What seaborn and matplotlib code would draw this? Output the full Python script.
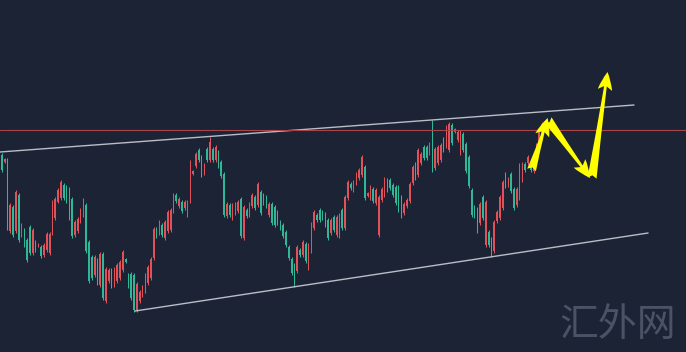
import numpy as np
import pandas as pd
import matplotlib.pyplot as plt
import seaborn as sns

# candle data (points) =========================================================
opens = [197, 190, 192, 121, 145, 121, 157, 117, 122, 112,
         125, 99, 110, 106, 105, 97, 102, 99, 119, 134,
         150, 154, 167, 165, 163, 153, 117, 121, 131, 137,
         147, 110, 95, 77, 92, 67, 98, 51, 71, 82,
         67, 71, 74, 82, 93, 77, 78, 77, 42, 51,
         57, 61, 69, 74, 94, 123, 119, 127, 114, 121,
         122, 141, 157, 146, 150, 144, 137, 151, 178, 186,
         202, 195, 179, 203, 192, 203, 192, 200, 190, 178,
         136, 147, 134, 139, 141, 153, 114, 142, 137, 146,
         155, 147, 160, 157, 155, 137, 148, 145, 140, 130,
         127, 120, 105, 93, 87, 81, 102, 97, 108, 84,
         101, 124, 137, 142, 140, 138, 132, 119, 135, 117,
         116, 142, 124, 154, 168, 162, 169, 174, 177, 185,
         156, 154, 163, 149, 117, 152, 157, 172, 172, 167,
         165, 165, 155, 139, 146, 151, 169, 188, 177, 189,
         205, 205, 199, 205, 184, 189, 192, 213, 206, 202,
         227, 220, 212, 199, 218, 208, 195, 162, 145, 143,
         129, 155, 107, 120, 113, 101, 131, 134, 144, 178,
         167, 178, 163, 147, 154, 172, 188, 189, 188, 181,
         196, 207, 214]

closes = [182, 193, 124, 147, 117, 160, 112, 127, 107, 92,
          99, 122, 102, 108, 96, 107, 118, 118, 150, 153,
          162, 170, 154, 151, 134, 116, 130, 133, 142, 152,
          101, 71, 74, 95, 69, 98, 54, 83, 82, 66,
          83, 87, 90, 100, 90, 66, 54, 42, 68, 60,
          65, 77, 85, 93, 123, 116, 130, 117, 130, 140,
          142, 157, 151, 153, 141, 150, 150, 190, 181, 198,
          192, 177, 187, 192, 210, 192, 205, 186, 176, 137,
          148, 137, 147, 148, 150, 116, 145, 136, 148, 157,
          144, 168, 139, 149, 146, 148, 129, 127, 129, 124,
          116, 107, 94, 79, 67, 105, 97, 110, 91, 107,
          128, 140, 132, 132, 134, 127, 114, 132, 122, 135,
          137, 124, 155, 170, 164, 170, 178, 182, 195, 154,
          159, 165, 151, 162, 155, 163, 173, 162, 164, 157,
          149, 142, 136, 148, 152, 168, 185, 174, 202, 198,
          194, 194, 208, 182, 203, 205, 207, 202, 225, 228,
          209, 223, 220, 220, 202, 181, 166, 137, 136, 121,
          148, 134, 150, 107, 97, 130, 140, 155, 170, 166,
          173, 161, 144, 163, 187, 188, 182, 195, 182, 193,
          207, 222, 228]

highs = [199, 194, 194, 149, 147, 162, 159, 129, 124, 114,
         127, 124, 112, 109, 107, 109, 120, 120, 152, 155,
         164, 172, 169, 167, 165, 155, 132, 135, 144, 154,
         149, 112, 97, 97, 94, 100, 100, 85, 84, 84,
         85, 89, 92, 102, 94, 79, 80, 79, 70, 62,
         67, 79, 87, 95, 125, 125, 132, 129, 132, 142,
         144, 159, 159, 155, 152, 152, 152, 192, 182, 200,
         204, 197, 189, 205, 215, 205, 207, 202, 192, 180,
         150, 149, 149, 150, 152, 155, 147, 144, 150, 159,
         157, 170, 162, 159, 157, 150, 150, 147, 142, 132,
         129, 122, 107, 95, 89, 107, 104, 112, 110, 109,
         130, 142, 139, 144, 142, 140, 134, 134, 137, 137,
         139, 144, 157, 172, 170, 172, 180, 184, 197, 187,
         160, 167, 165, 164, 157, 165, 175, 174, 174, 169,
         167, 167, 157, 150, 154, 170, 187, 190, 204, 200,
         207, 207, 210, 232, 205, 207, 209, 215, 227, 230,
         229, 224, 222, 222, 220, 210, 197, 164, 147, 145,
         150, 157, 152, 122, 115, 132, 142, 157, 172, 180,
         175, 180, 165, 165, 189, 190, 190, 197, 190, 195,
         209, 224, 230]

lows = [180, 189, 122, 119, 115, 119, 110, 115, 105, 90,
        97, 97, 100, 105, 94, 95, 100, 97, 117, 132,
        149, 152, 152, 149, 132, 114, 115, 119, 129, 135,
        99, 69, 72, 75, 67, 65, 52, 49, 69, 64,
        65, 69, 72, 80, 89, 64, 52, 40, 40, 49,
        55, 59, 67, 72, 92, 114, 117, 115, 112, 119,
        120, 139, 149, 144, 139, 142, 135, 149, 177, 184,
        190, 175, 177, 190, 190, 190, 190, 184, 174, 135,
        134, 135, 132, 137, 139, 114, 112, 134, 135, 144,
        142, 145, 137, 147, 144, 135, 127, 125, 127, 122,
        114, 105, 92, 77, 65, 79, 95, 95, 89, 82,
        99, 122, 130, 130, 132, 125, 112, 117, 120, 115,
        114, 122, 122, 152, 162, 160, 167, 172, 175, 152,
        155, 152, 149, 147, 115, 150, 155, 160, 162, 155,
        147, 140, 134, 137, 144, 149, 167, 172, 175, 187,
        192, 192, 197, 180, 182, 187, 190, 200, 204, 200,
        207, 219, 210, 197, 200, 179, 164, 135, 134, 119,
        127, 132, 105, 105, 95, 99, 129, 132, 142, 164,
        165, 159, 142, 145, 152, 170, 180, 187, 180, 179,
        194, 205, 212]

# channel lines (bar index, price)
upper_x = [-0.6, 224.7]
upper_y = [200, 247]
lower_x = [47.4, 229.7]
lower_y = [41, 119]
resistance = 222.5

# drawn arrows: (tail, head) in (bar index, price)
arrows = [((188.3, 182), (194.0, 234)),
          ((194.1, 232), (209.1, 174)),
          ((209.8, 174), (215.3, 280))]

bg = '#1c2335'
up_col = '#e0525a'
dn_col = '#2fb898'

df = pd.DataFrame({'o': opens, 'h': highs, 'l': lows, 'c': closes})
df['i'] = np.arange(len(df))
df['up'] = df['c'] >= df['o']
df['col'] = np.where(df['up'], up_col, dn_col)

sns.set_theme(style='dark', rc={'axes.facecolor': bg, 'figure.facecolor': bg,
                                'savefig.facecolor': bg})

fig = plt.figure(figsize=(6.86, 3.52), dpi=100)
ax = fig.add_axes([0, 0, 1, 1])

# candles
ax.vlines(df['i'], df['l'], df['h'], colors=df['col'], linewidth=0.75)
ax.bar(df['i'], (df['c'] - df['o']).abs().clip(lower=0.8),
       bottom=df[['o', 'c']].min(axis=1), width=0.5,
       color=df['col'], linewidth=0)

# channel + resistance
sns.lineplot(x=upper_x, y=upper_y, ax=ax, color='#b9bdc6', linewidth=1.0)
sns.lineplot(x=lower_x, y=lower_y, ax=ax, color='#b9bdc6', linewidth=1.0)
ax.axhline(resistance, color='#a8444a', linewidth=0.8, zorder=3)

for tail, head in arrows:
    ax.annotate('', xy=head, xytext=tail,
                arrowprops=dict(arrowstyle='fancy,head_length=1.0,head_width=0.8,tail_width=0.5',
                                color='#ffff00', lw=0, shrinkA=0, shrinkB=0,
                                mutation_scale=13))

fig.text(618 / 686, 1 - 325 / 352, '汇外网', ha='center', va='center',
         fontsize=28, color='#4a5366', fontweight='light',
         family=['Noto Sans CJK SC', 'DejaVu Sans'])

ax.set_xlim(-0.604, 243.18)
ax.set_ylim(0, 352)
ax.set_xticks([])
ax.set_yticks([])
ax.grid(False)
for s in ax.spines.values():
    s.set_visible(False)

fig.savefig('out.png', dpi=100)
